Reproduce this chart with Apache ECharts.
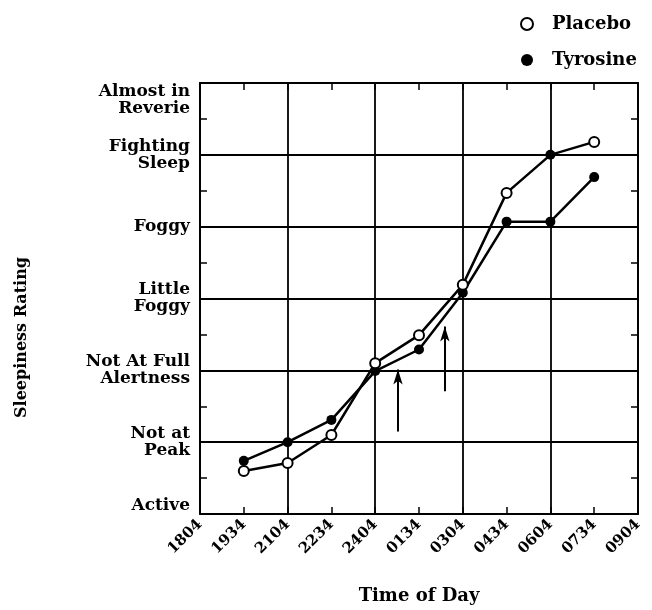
<!DOCTYPE html>
<html>
<head>
<meta charset="utf-8">
<script src="https://cdn.jsdelivr.net/npm/echarts@6/dist/echarts.min.js"></script>
<style>
  html, body { margin: 0; padding: 0; background: #fff; }
  #chart { width: 652px; height: 610px; }
</style>
</head>
<body>
<div id="chart"></div>
<script>
// tick labels
const timeLabels = ['1804', '1934', '2104', '2234', '2404', '0134', '0304', '0434', '0604', '0734', '0904'];
const ratingLabels = ['Active', 'Not at\nPeak', 'Not At Full\nAlertness', 'Little\nFoggy', 'Foggy', 'Fighting\nSleep', 'Almost in\nReverie'];

// measurements, x = index into timeLabels
const sampleIdx = [1, 2, 3, 4, 5, 6, 7, 8, 9];
const placebo = [1.60, 1.71, 2.10, 3.10, 3.49, 4.19, 5.47, 6.00, 6.18];
const tyrosine = [1.74, 2.00, 2.31, 2.99, 3.29, 4.08, 5.07, 5.07, 5.69];

// the two arrows drawn on the figure
const arrowX = [4.52, 5.59];
const arrowFrom = [2.15, 2.71];
const arrowTo = [3.01, 3.61];

const FONT = 'DejaVu Serif';
const black = '#000';

const chart = echarts.init(document.getElementById('chart'));

const placeboData = sampleIdx.map((x, i) => {
    // the 0604 placebo marker prints solid in the original
    if (i === 7) return { value: [x, placebo[i]], symbol: 'circle' };
    return [x, placebo[i]];
});
const tyrosineData = sampleIdx.map((x, i) => [x, tyrosine[i]]);

const arrows = arrowX.map((x, i) => [
    { coord: [x, arrowFrom[i]] },
    { coord: [x, arrowTo[i]] }
]);

const frameLine = { show: true, onZero: false, lineStyle: { color: black, width: 2 } };
const noLine = { show: false, onZero: false };
const gridLine = { show: true, lineStyle: { color: black, width: 1.8 } };
const inTicks = { show: true, inside: true, length: 7, lineStyle: { color: black, width: 1.5 } };

// an axis that only draws inward ticks (and optionally the frame line)
function tickAxis(position, min, max, interval, showLine) {
    return {
        type: 'value', position, min, max, interval,
        axisLine: showLine ? frameLine : noLine,
        axisTick: inTicks,
        axisLabel: { show: false },
        splitLine: { show: false }
    };
}

const option = {
    backgroundColor: '#fff',
    animation: false,
    textStyle: { fontFamily: FONT, color: black },
    grid: { left: 200, right: 14, top: 83, bottom: 95 },
    legend: {
        orient: 'vertical',
        left: 515,
        top: 9,
        itemGap: 16,
        itemWidth: 12,
        itemHeight: 12,
        itemStyle: { borderWidth: 2.5 },
        textStyle: {
            fontFamily: FONT, fontWeight: 'bold', fontSize: 18, lineHeight: 20,
            color: black, padding: [0, 0, 0, 14]
        },
        data: [
            { name: 'Placebo', icon: 'emptyCircle' },
            { name: 'Tyrosine', icon: 'circle' }
        ]
    },
    xAxis: [
        {
            type: 'value',
            min: 0,
            max: 10,
            interval: 1,
            position: 'bottom',
            name: 'Time of Day',
            nameLocation: 'middle',
            nameGap: 73,
            nameTextStyle: { fontFamily: FONT, fontWeight: 'bold', fontSize: 18, color: black },
            axisLine: frameLine,
            axisTick: inTicks,
            axisLabel: {
                rotate: 45,
                margin: 8,
                fontFamily: FONT,
                fontWeight: 'bold',
                fontSize: 15,
                color: black,
                formatter: v => timeLabels[v]
            },
            splitLine: { show: false }
        },
        tickAxis('top', 0, 10, 1, true),
        {
            // vertical grid lines every other time label
            type: 'value', position: 'top', min: 0, max: 10, interval: 2,
            axisLine: noLine,
            axisTick: { show: false },
            axisLabel: { show: false },
            splitLine: gridLine
        }
    ],
    yAxis: [
        {
            type: 'value',
            min: 1,
            max: 7,
            interval: 1,
            position: 'left',
            name: 'Sleepiness Rating',
            nameLocation: 'middle',
            nameGap: 170,
            nameTextStyle: {
                fontFamily: FONT, fontWeight: 'bold', fontSize: 16, color: black,
                padding: [0, 78, 0, 0]
            },
            axisLine: frameLine,
            axisTick: { show: false },
            axisLabel: {
                margin: 10,
                fontFamily: FONT,
                fontWeight: 'bold',
                fontSize: 17,
                lineHeight: 17,
                color: black,
                align: 'right',
                verticalAlignMinLabel: 'bottom',
                verticalAlignMaxLabel: 'top',
                formatter: v => ratingLabels[v - 1]
            },
            splitLine: gridLine
        },
        tickAxis('left', 1, 7, 0.5, false),
        tickAxis('right', 1, 7, 0.5, true)
    ],
    series: [
        {
            name: 'Tyrosine',
            type: 'line',
            data: tyrosineData,
            symbol: 'circle',
            symbolSize: 10,
            itemStyle: { color: black },
            lineStyle: { color: black, width: 2.5 },
            markLine: {
                silent: true,
                symbol: ['none', 'arrow'],
                symbolSize: [7, 15],
                label: { show: false },
                lineStyle: { color: black, width: 2, type: 'solid' },
                data: arrows
            }
        },
        {
            name: 'Placebo',
            type: 'line',
            data: placeboData,
            symbol: 'emptyCircle',
            symbolSize: 10,
            itemStyle: { color: black, borderWidth: 2.5 },
            lineStyle: { color: black, width: 2.5 }
        }
    ]
};

chart.setOption(option);
</script>
</body>
</html>
